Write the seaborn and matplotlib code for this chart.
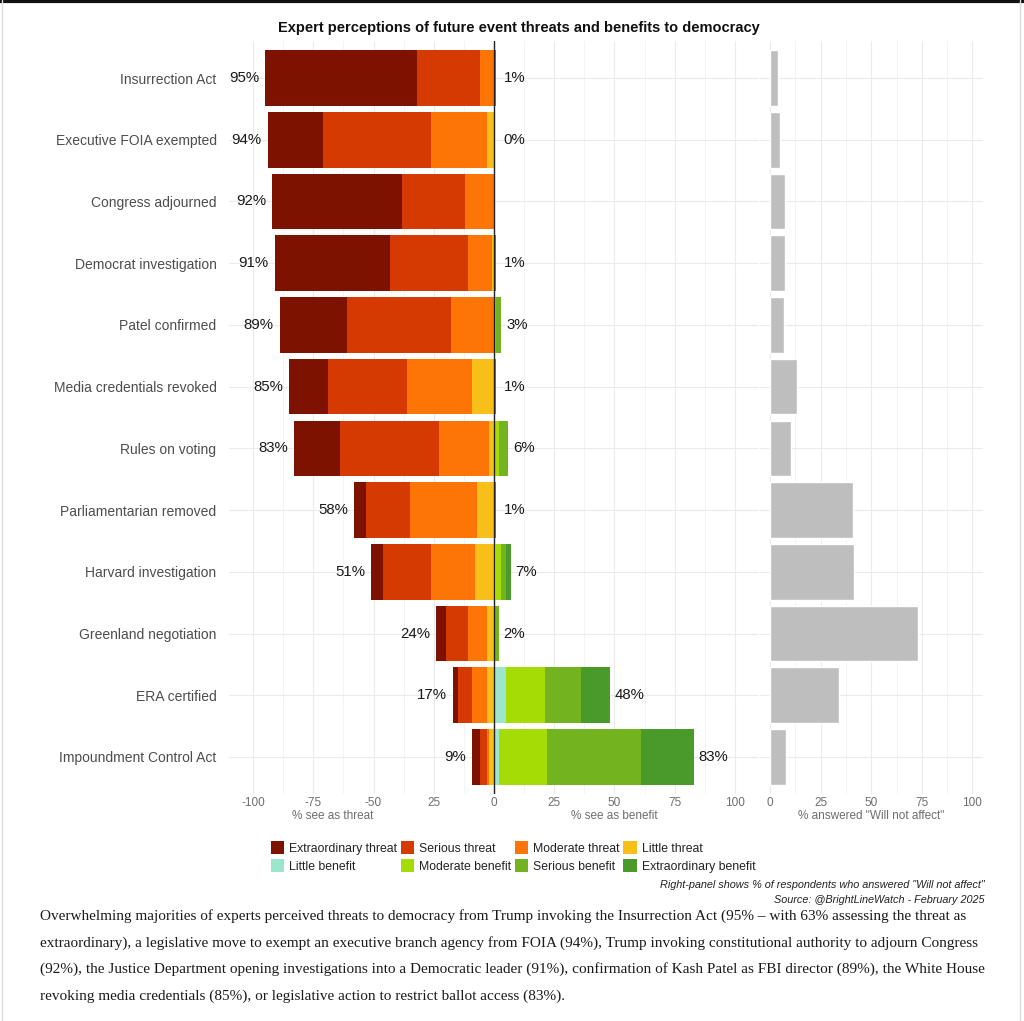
# Expert perceptions of future event threats and benefits to democracy

import numpy as np
import pandas as pd
import seaborn as sns
import matplotlib
matplotlib.use("Agg")
import matplotlib.pyplot as plt
from matplotlib.patches import Patch
from matplotlib.lines import Line2D
from matplotlib.ticker import FixedLocator, MultipleLocator


# Dados
events = ["Insurrection Act", "Executive FOIA exempted", "Congress adjourned",
          "Democrat investigation", "Patel confirmed", "Media credentials revoked",
          "Rules on voting", "Parliamentarian removed", "Harvard investigation",
          "Greenland negotiation", "ERA certified", "Impoundment Control Act"]

extraordinary_threat = [63, 23, 54, 48, 28, 16, 19, 5, 5, 4, 2, 3]
serious_threat = [26, 45, 26, 32, 43, 33, 41, 18, 20, 9, 6, 3]
moderate_threat = [6, 23, 12, 10, 18, 27, 21, 28, 18, 8, 6, 1]
little_threat = [0, 3, 0, 1, 0, 9, 2, 7, 8, 3, 3, 2]

little_benefit = [0, 0, 0, 0, 0, 0, 0, 0, 1, 0, 5, 2]
moderate_benefit = [0, 0, 0, 0, 1, 0, 2, 0, 2, 0, 16, 20]
serious_benefit = [0, 0, 0, 0, 2, 0, 4, 0, 2, 2, 15, 39]
extraordinary_benefit = [1, 0, 0, 1, 0, 1, 0, 1, 2, 0, 12, 22]

threat_pct = [95, 94, 92, 91, 89, 85, 83, 58, 51, 24, 17, 9]
benefit_pct = [1, 0, None, 1, 3, 1, 6, 1, 7, 2, 48, 83]

will_not_affect = [4, 5, 7.4, 7.2, 6.9, 13.2, 10.2, 41, 41.5, 73, 34, 8]

x_ticks = [-100, -75, -50, -25, 0, 25, 50, 75, 100]
x_tick_labels = ["-100", "-75", "-50", "25", "0", "25", "50", "75", "100"]

threat_levels = ["Extraordinary threat", "Serious threat", "Moderate threat", "Little threat"]
benefit_levels = ["Little benefit", "Moderate benefit", "Serious benefit", "Extraordinary benefit"]
cores = {
    "Extraordinary threat": "#7E1200",
    "Serious threat": "#D43A02",
    "Moderate threat": "#FD7506",
    "Little threat": "#F8BE1A",
    "Little benefit": "#9CE6CE",
    "Moderate benefit": "#A5DC05",
    "Serious benefit": "#74B320",
    "Extraordinary benefit": "#4A9A2B",
}

paragraph = [
    "Overwhelming majorities of experts perceived threats to democracy from Trump invoking the Insurrection Act (95% \u2013 with 63% assessing the threat as",
    "extraordinary), a legislative move to exempt an executive branch agency from FOIA (94%), Trump invoking constitutional authority to adjourn Congress",
    "(92%), the Justice Department opening investigations into a Democratic leader (91%), confirmation of Kash Patel as FBI director (89%), the White House",
    "revoking media credentials (85%), or legislative action to restrict ballot access (83%).",
]


# Tema
sns.set_theme(style="whitegrid")
plt.rcParams['font.family'] = ['Liberation Sans', 'DejaVu Sans']

W, H = 1024, 1021
fig = plt.figure(figsize=(W / 100, H / 100), dpi=100)
fig.patch.set_facecolor("white")

def fx(px):
    return px / W

def fy(py):
    return 1 - py / H

ax = fig.add_axes([fx(229), fy(794), fx(530), (794 - 41) / H])
ax2 = fig.add_axes([fx(760), fy(794), fx(222.6), (794 - 41) / H])

y = np.arange(len(events))
bar_h = 0.9

# Barras de ameaça (para a esquerda)
threat_series = [extraordinary_threat, serious_threat, moderate_threat, little_threat]
acumulado = np.zeros(len(events))
for nivel, valores in zip(threat_levels[::-1], threat_series[::-1]):
    valores = np.array(valores, dtype=float)
    ax.barh(y, -valores, left=-acumulado, height=bar_h, color=cores[nivel], linewidth=0)
    acumulado += valores

# Barras de benefício (para a direita)
benefit_series = [little_benefit, moderate_benefit, serious_benefit, extraordinary_benefit]
acumulado = np.zeros(len(events))
for nivel, valores in zip(benefit_levels, benefit_series):
    valores = np.array(valores, dtype=float)
    ax.barh(y, valores, left=acumulado, height=bar_h, color=cores[nivel], linewidth=0)
    acumulado += valores

ax.axvline(0, color="#222222", lw=1.0, zorder=5)

# Rótulos de porcentagem
for i in range(len(events)):
    ax.text(-(threat_pct[i] + 2.5), i, f"{threat_pct[i]}%", ha="right", va="center",
            fontsize=10.8, color="#1a1a1a")
    if benefit_pct[i] is not None:
        ax.text(max(benefit_pct[i], 2) + 2, i, f"{benefit_pct[i]}%", ha="left", va="center",
                fontsize=10.8, color="#1a1a1a")

ax.set_xlim(-110, 110)
ax.set_ylim(len(events) - 0.4, -0.6)
ax.set_yticks(y)
ax.set_yticklabels(events, fontsize=10, color="#4D4D4D")
ax.xaxis.set_major_locator(FixedLocator(x_ticks))
ax.set_xticklabels(x_tick_labels, fontsize=8.5, color="#6E6E6E")
ax.xaxis.set_minor_locator(MultipleLocator(12.5))
ax.tick_params(axis="both", length=0)
ax.tick_params(axis="y", pad=9)
ax.tick_params(axis="x", pad=2)
ax.grid(which="major", color="#EBEBEB", lw=0.8)
ax.grid(which="minor", axis="x", color="#F1F1F1", lw=0.6)
ax.set_axisbelow(True)
for s in ax.spines.values():
    s.set_visible(False)
ax.set_xlabel("")
ax.set_ylabel("")
ax.text(-67, -(816 - 794) / 753, "% see as threat", transform=ax.get_xaxis_transform(),
        ha="center", va="center", fontsize=8.5, color="#6E6E6E")
ax.text(50, -(816 - 794) / 753, "% see as benefit", transform=ax.get_xaxis_transform(),
        ha="center", va="center", fontsize=8.5, color="#6E6E6E")

# Painel direito: "Will not affect"
df = pd.DataFrame({"evento": events, "nao_afeta": will_not_affect})
sns.barplot(data=df, x="nao_afeta", y="evento", orient="h", color="#BEBEBE",
            width=bar_h, saturation=1, ax=ax2)
ax2.set_xlim(-5, 105)
ax2.set_ylim(len(events) - 0.4, -0.6)
ax2.set_xticks([0, 25, 50, 75, 100])
ax2.set_xticklabels(["0", "25", "50", "75", "100"], fontsize=8.5, color="#6E6E6E")
ax2.xaxis.set_minor_locator(MultipleLocator(12.5))
ax2.set_yticklabels([])
ax2.tick_params(axis="both", length=0)
ax2.tick_params(axis="x", pad=2)
ax2.grid(which="major", color="#EBEBEB", lw=0.8)
ax2.grid(which="minor", axis="x", color="#F1F1F1", lw=0.6)
ax2.set_axisbelow(True)
for s in ax2.spines.values():
    s.set_visible(False)
ax2.set_xlabel("")
ax2.set_ylabel("")
ax2.text(50, -(816 - 794) / 753, "% answered \"Will not affect\"", transform=ax2.get_xaxis_transform(),
         ha="center", va="center", fontsize=8.5, color="#6E6E6E")

# Título
fig.text(fx(519), fy(28), "Expert perceptions of future event threats and benefits to democracy",
         ha="center", va="center", fontsize=10.5, fontweight="bold", color="#111111")

# Legenda (preenchida por linha)
handles = [Patch(facecolor=cores[n], edgecolor="none", label=n) for n in threat_levels + benefit_levels]
ordem = [0, 4, 1, 5, 2, 6, 3, 7]
fig.legend([handles[k] for k in ordem], [handles[k].get_label() for k in ordem],
           ncol=4, loc="center", bbox_to_anchor=(fx(513), fy(857)), frameon=False,
           fontsize=8.8, handlelength=1.1, handleheight=1.2, handletextpad=0.4,
           columnspacing=0.3, labelspacing=0.35, labelcolor="#222222")

# Notas
fig.text(fx(985), fy(885), "Right-panel shows % of respondents who answered \"Will not affect\"",
         ha="right", va="center", fontsize=7.8, style="italic", color="#222222")
fig.text(fx(985), fy(900), "Source: @BrightLineWatch - February 2025",
         ha="right", va="center", fontsize=7.8, style="italic", color="#222222")

# Parágrafo
for k, linha in enumerate(paragraph):
    fig.text(fx(40), fy(916 + k * 26.7), linha, ha="left", va="center",
             fontsize=11, family="Liberation Serif", color="#1a1a1a")

# Bordas da imagem
fig.add_artist(Line2D([0, 1], [fy(1.5), fy(1.5)], transform=fig.transFigure, color="#111111", lw=3))
fig.add_artist(Line2D([fx(2), fx(2)], [0, 1], transform=fig.transFigure, color="#DDDDDD", lw=1))
fig.add_artist(Line2D([fx(1020), fx(1020)], [0, 1], transform=fig.transFigure, color="#DDDDDD", lw=1))

plt.savefig("out.png", dpi=100)
